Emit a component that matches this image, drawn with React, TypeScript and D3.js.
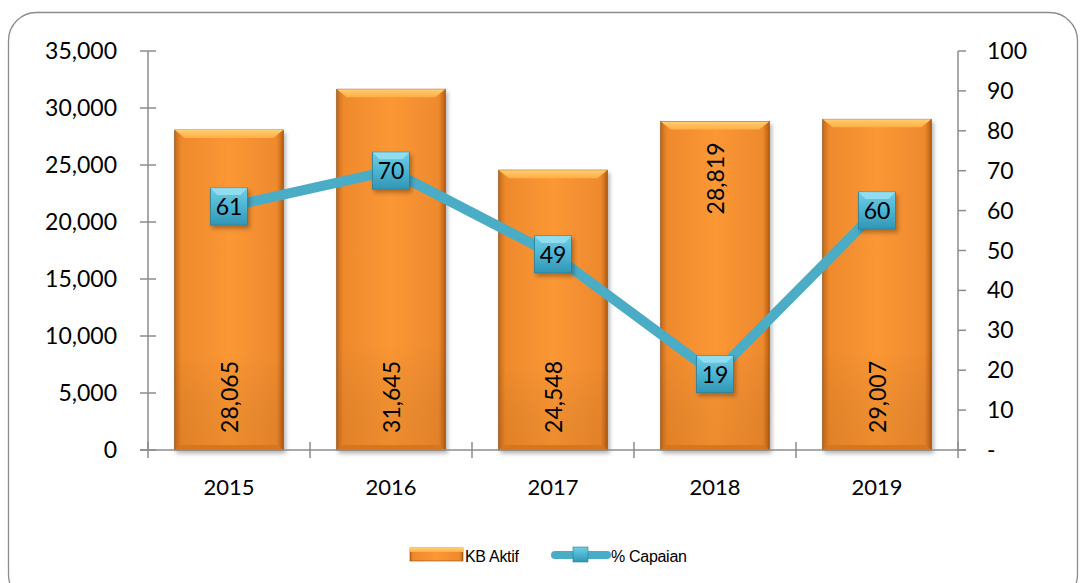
import React from "react";
import * as d3 from "d3";

const years = ["2015", "2016", "2017", "2018", "2019"];
const kbAktif = [28065, 31645, 24548, 28819, 29007];
const capaian = [61, 70, 49, 19, 60];
const labelPos = ["base", "base", "base", "end", "base"];
const leftTicks = [0, 5000, 10000, 15000, 20000, 25000, 30000, 35000];
const rightTicks = [0, 10, 20, 30, 40, 50, 60, 70, 80, 90, 100];

const W = 1081;
const H = 583;
const m = { left: 148, right: 958, top: 51, bottom: 450 };

export default function App() {
  const x = d3.scaleBand<string>().domain(years).range([m.left, m.right]).paddingInner(0.33).paddingOuter(0.165);
  const xb = d3.scaleBand<string>().domain(years).range([m.left, m.right]);
  const y = d3.scaleLinear().domain([0, 35000]).range([m.bottom, m.top]);
  const y2 = d3.scaleLinear().domain([0, 100]).range([m.bottom, m.top]);
  const fmt = d3.format(",");
  const font = "Lato, 'Open Sans', sans-serif";
  const line = d3
    .line<number>()
    .x((_, i) => (xb(years[i]) as number) + xb.bandwidth() / 2)
    .y((d) => y2(d));
  const ms = 37;
  return (
    <svg width={W} height={H} style={{ position: "absolute", left: 0, top: 0, background: "#fff" }}>
      <defs>
        <linearGradient id="barG" x1="0" x2="1" y1="0" y2="0">
          <stop offset="0" stopColor="#C9691A" />
          <stop offset="0.06" stopColor="#EE8A2C" />
          <stop offset="0.5" stopColor="#FB9734" />
          <stop offset="0.94" stopColor="#EE8A2E" />
          <stop offset="1" stopColor="#B95F14" />
        </linearGradient>
        <linearGradient id="barV" x1="0" x2="0" y1="0" y2="1">
          <stop offset="0" stopColor="#000" stopOpacity="0" />
          <stop offset="0.7" stopColor="#000" stopOpacity="0" />
          <stop offset="1" stopColor="#8a4000" stopOpacity="0.12" />
        </linearGradient>
        <linearGradient id="bevel" x1="0" x2="0" y1="0" y2="1">
          <stop offset="0" stopColor="#FFCE72" />
          <stop offset="1" stopColor="#FFAE45" />
        </linearGradient>
        <linearGradient id="mk" x1="0" x2="0" y1="0" y2="1">
          <stop offset="0" stopColor="#6FCDE6" />
          <stop offset="0.5" stopColor="#4BB5D3" />
          <stop offset="1" stopColor="#3295B4" />
        </linearGradient>
        <filter id="sh" x="-20%" y="-20%" width="150%" height="150%">
          <feDropShadow dx="2" dy="3" stdDeviation="2" floodColor="#000" floodOpacity="0.3" />
        </filter>
      </defs>
      <rect x={8.5} y={12.5} width={1069} height={590} rx={28} fill="#fff" stroke="#8c8c8c" strokeWidth={1.3} />

      {/* bars */}
      {kbAktif.map((v, i) => {
        const bx = x(years[i]) as number;
        const bw = x.bandwidth();
        const by = y(v);
        const bh = m.bottom - by;
        return (
          <g key={years[i]}>
            <rect x={bx} y={by} width={bw} height={bh} fill="url(#barG)" stroke="#8a4a10" strokeWidth={0.8} filter="url(#sh)" />
            <rect x={bx} y={by} width={bw} height={bh} fill="url(#barV)" />
            <polygon
              points={`${bx},${by} ${bx + bw},${by} ${bx + bw - 10},${by + 8} ${bx + 10},${by + 8}`}
              fill="url(#bevel)"
            />
            <polygon
              points={`${bx},${m.bottom} ${bx + bw},${m.bottom} ${bx + bw - 6},${m.bottom - 5} ${bx + 6},${m.bottom - 5}`}
              fill="#D9741F"
            />
          </g>
        );
      })}

      {/* bar labels */}
      {kbAktif.map((v, i) => {
        const cx = (x(years[i]) as number) + x.bandwidth() / 2;
        const cy = labelPos[i] === "end" ? y(v) + 57 : m.bottom - 53;
        return (
          <text
            key={"l" + i}
            transform={`translate(${cx + 9},${cy}) rotate(-90)`}
            textAnchor="middle"
            fontFamily={font}
            fontSize={23}
            fill="#000"
          >
            {fmt(v)}
          </text>
        );
      })}

      {/* left axis */}
      <line x1={m.left} x2={m.left} y1={m.top} y2={m.bottom} stroke="#8c8c8c" strokeWidth={1.5} />
      {leftTicks.map((t) => (
        <g key={"lt" + t}>
          <line x1={m.left - 8} x2={m.left + 8} y1={y(t)} y2={y(t)} stroke="#8c8c8c" strokeWidth={1.5} />
          <text x={117} y={y(t) + 8} textAnchor="end" fontFamily={font} fontSize={23} fill="#000">
            {fmt(t)}
          </text>
        </g>
      ))}

      {/* right axis */}
      <line x1={m.right} x2={m.right} y1={m.top} y2={m.bottom} stroke="#8c8c8c" strokeWidth={1.5} />
      {rightTicks.map((t) => (
        <g key={"rt" + t}>
          <line x1={m.right} x2={m.right + 8} y1={y2(t)} y2={y2(t)} stroke="#8c8c8c" strokeWidth={1.5} />
          <text x={987} y={y2(t) + 8} textAnchor="start" fontFamily={font} fontSize={23} fill="#000">
            {t === 0 ? "-" : t}
          </text>
        </g>
      ))}

      {/* x axis */}
      <line x1={m.left - 8} x2={m.right + 8} y1={m.bottom} y2={m.bottom} stroke="#8c8c8c" strokeWidth={1.5} />
      {years.map((yr, i) => (
        <line
          key={"xt" + i}
          x1={xb(yr) as number}
          x2={xb(yr) as number}
          y1={m.bottom - 8}
          y2={m.bottom + 8}
          stroke="#8c8c8c"
          strokeWidth={1.5}
        />
      ))}
      <line x1={m.right} x2={m.right} y1={m.bottom - 8} y2={m.bottom + 8} stroke="#8c8c8c" strokeWidth={1.5} />
      {years.map((yr) => (
        <text
          key={"xl" + yr}
          x={(xb(yr) as number) + xb.bandwidth() / 2}
          y={495}
          textAnchor="middle"
          fontFamily={font}
          fontSize={22}
          fill="#000"
        >
          {yr}
        </text>
      ))}

      {/* line */}
      <path d={line(capaian) as string} fill="none" stroke="#4BACC6" strokeWidth={10} strokeLinejoin="round" />
      {capaian.map((v, i) => {
        const cx = (xb(years[i]) as number) + xb.bandwidth() / 2;
        const cy = y2(v);
        return (
          <g key={"m" + i}>
            <rect x={cx - ms / 2} y={cy - ms / 2} width={ms} height={ms} fill="url(#mk)" stroke="#2a7f99" strokeWidth={0.8} filter="url(#sh)" />
            <polygon
              points={`${cx - ms / 2},${cy - ms / 2} ${cx + ms / 2},${cy - ms / 2} ${cx + ms / 2 - 7},${cy - ms / 2 + 7} ${cx - ms / 2 + 7},${cy - ms / 2 + 7}`}
              fill="#9BE2F2"
              opacity={0.8}
            />
            <text x={cx} y={cy + 8.5} textAnchor="middle" fontFamily={font} fontSize={23} fill="#000">
              {v}
            </text>
          </g>
        );
      })}

      {/* legend */}
      <rect x={410} y={548} width={53} height={13} fill="url(#barG)" stroke="#8a4a10" strokeWidth={0.6} />
      <rect x={410} y={548} width={53} height={4} fill="url(#bevel)" />
      <text x={465} y={562} fontFamily="'Liberation Sans', Arial, sans-serif" fontSize={16} fill="#000" letterSpacing={-0.3}>
        KB Aktif
      </text>
      <line x1={555} x2={607} y1={555} y2={555} stroke="#4BACC6" strokeWidth={8} strokeLinecap="round" />
      <rect x={573} y={547} width={15} height={15} fill="url(#mk)" stroke="#2a7f99" strokeWidth={0.6} />
      <text x={611} y={562} fontFamily="'Liberation Sans', Arial, sans-serif" fontSize={16} fill="#000" letterSpacing={-0.3}>
        % Capaian
      </text>
    </svg>
  );
}
